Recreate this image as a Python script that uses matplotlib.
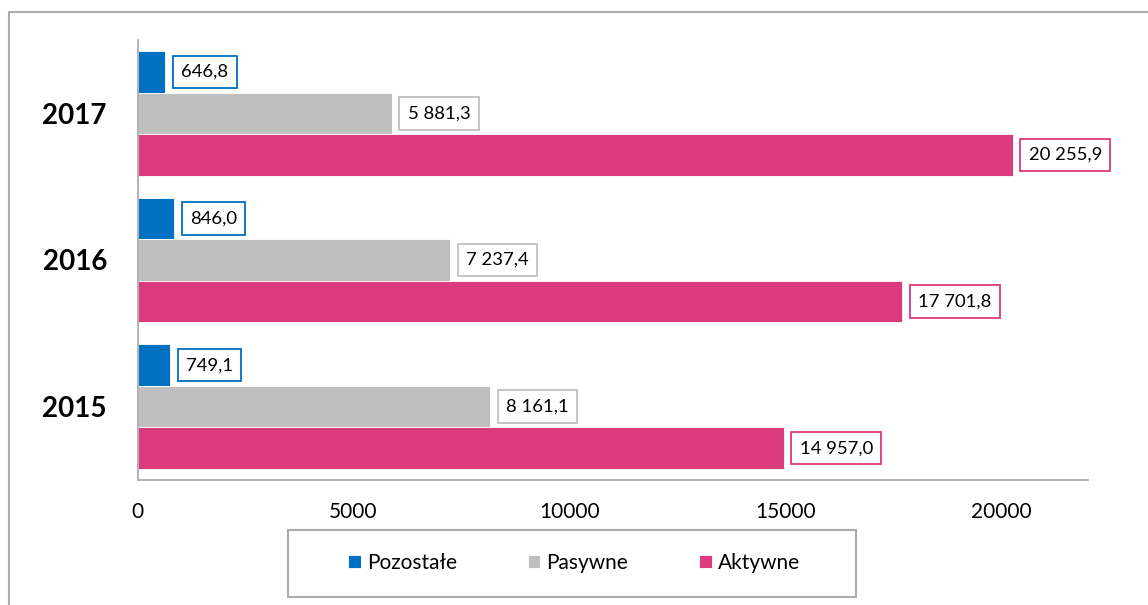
import matplotlib
matplotlib.use("Agg")
import matplotlib.pyplot as plt
from matplotlib.patches import Rectangle
import numpy as np

years = ["2015", "2016", "2017"]
series = ["Pozostałe", "Pasywne", "Aktywne"]
pozostale = [749.1, 846.0, 646.8]
pasywne = [8161.1, 7237.4, 5881.3]
aktywne = [14957.0, 17701.8, 20255.9]
xticks = [0, 5000, 10000, 15000, 20000]

colors = {"Pozostałe": "#0070C0", "Pasywne": "#BFBFBF", "Aktywne": "#DB3A7C"}
FONT = "Lato"

W, H = 1148, 605
fig = plt.figure(figsize=(W / 100, H / 100), dpi=100)
ax = fig.add_axes([137.5 / W, 1 - 480 / H, (1088 - 137.5) / W, 440 / H])

def fmt(v):
    s = f"{v:,.1f}"
    return s.replace(",", " ").replace(".", ",")

y = np.arange(len(years))
h = 0.283
offsets = {"Pozostałe": h, "Pasywne": 0.0, "Aktywne": -h}
data = {"Pozostałe": pozostale, "Pasywne": pasywne, "Aktywne": aktywne}

handles = []
for s in series:
    bars = ax.barh(y + offsets[s], data[s], height=h, color=colors[s],
                   edgecolor="white", linewidth=0.6, label=s)
    handles.append(bars)
    for yi, v in zip(y, data[s]):
        ax.annotate(fmt(v), xy=(v, yi + offsets[s]), xytext=(16, 0),
                    textcoords="offset pixels", ha="left", va="center",
                    fontsize=13.3, family=FONT, color="black",
                    bbox=dict(boxstyle="square,pad=0.45", fc="white",
                              ec=colors[s], lw=1.3))

ax.set_xlim(0, 22000)
ax.set_ylim(-0.5, 2.5)
ax.set_xticks(xticks)
ax.set_xticklabels([str(t) for t in xticks], fontsize=15, family=FONT)
ax.set_yticks(y)
ax.set_yticklabels(years, fontsize=20, fontweight="bold", family=FONT)
ax.tick_params(axis="both", length=0)
ax.tick_params(axis="x", pad=16)
ax.tick_params(axis="y", pad=22)
for sp in ["top", "right"]:
    ax.spines[sp].set_visible(False)
for sp in ["left", "bottom"]:
    ax.spines[sp].set_color("#ADADAD")
    ax.spines[sp].set_linewidth(1.3)

# outer chart border (cut off at right/bottom)
fig.patches.append(Rectangle((9 / W, -0.2), 1.2, 1.2 - 12 / H,
                             transform=fig.transFigure, fill=False,
                             ec="#ADADAD", lw=1.5))
# legend frame
fig.patches.append(Rectangle((288 / W, 1 - 597 / H), (856 - 288) / W, 67 / H,
                             transform=fig.transFigure, fill=False,
                             ec="#ADADAD", lw=1.5))
leg = fig.legend(handles=handles, labels=series, loc="center",
                 bbox_to_anchor=(574 / W, 1 - 563 / H), ncol=3, frameon=False,
                 prop={"family": FONT, "size": 15}, handlelength=0.6,
                 handleheight=0.6, handletextpad=0.3, columnspacing=3.4)

fig.savefig("out.png", dpi=100)
